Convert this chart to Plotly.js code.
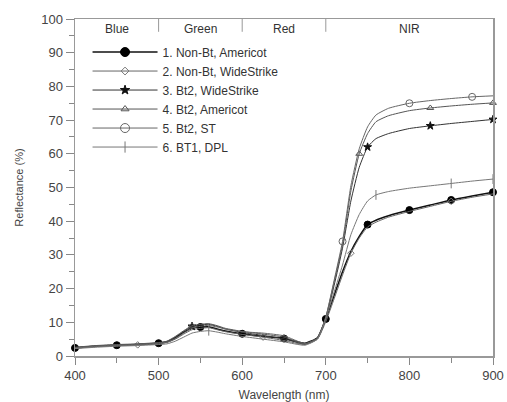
<!DOCTYPE html>
<html>
<head>
<meta charset="utf-8">
<script src="https://cdn.plot.ly/plotly-3.0.1.min.js"></script>
<style>html,body{margin:0;padding:0;background:#fff;}#chart{width:507px;height:402px;}</style>
</head>
<body>
<div id="chart"></div>
<script>
// Wavelength grid (nm)
const wavelength = [400,425,450,475,500,510,520,530,540,550,560,570,580,600,625,650,675,690,700,710,720,730,740,750,760,775,800,825,850,875,900];

// Reflectance (%) per series
const nonBtAmericot   = [2.4,2.9,3.2,3.4,3.8,4.2,5.4,7.0,8.3,8.6,8.7,8.0,7.4,6.6,5.8,5.2,3.8,5.4,11.0,18.0,25.0,31.0,35.5,39.0,40.3,41.6,43.3,44.8,46.3,47.5,48.6];
const nonBtWideStrike = [2.3,2.8,3.1,3.3,3.6,4.0,5.0,6.5,7.8,8.2,8.4,7.8,7.2,6.4,5.6,4.6,3.4,5.0,10.2,17.0,24.0,30.5,35.0,38.3,39.7,41.2,42.9,44.4,45.9,47.1,48.1];
const bt2WideStrike   = [2.5,3.0,3.3,3.5,3.9,4.3,5.6,7.3,8.8,9.2,9.4,8.8,8.0,7.0,6.1,5.1,3.6,5.4,11.2,21.0,32.0,46.0,56.0,62.0,64.5,66.0,67.5,68.3,69.0,69.6,70.2];
const bt2Americot     = [2.6,3.1,3.4,3.6,4.0,4.4,5.8,7.5,9.0,9.4,9.6,9.0,8.2,7.3,6.5,5.6,3.5,5.2,11.5,22.0,33.0,49.0,60.0,66.0,69.5,71.3,72.8,73.6,74.2,74.7,75.1];
const bt2ST           = [2.4,2.9,3.2,3.4,3.8,4.1,5.2,6.8,8.3,8.8,9.1,8.6,8.0,7.2,6.8,6.0,3.7,5.3,11.6,22.5,34.0,50.5,61.5,68.0,71.5,73.5,75.0,75.8,76.4,76.9,77.2];
const bt1DPL          = [2.2,2.6,2.9,3.1,3.4,3.6,4.4,5.6,6.8,7.3,7.5,7.1,6.6,5.8,5.0,4.2,3.2,5.0,11.0,19.0,27.0,36.0,42.0,46.0,47.8,48.8,49.8,50.5,51.2,51.9,52.5];

const seriesNames = ['1. Non-Bt, Americot','2. Non-Bt, WideStrike','3. Bt2, WideStrike','4. Bt2, Americot','5. Bt2, ST','6. BT1, DPL'];
const bandNames = ['Blue','Green','Red','NIR'];
const bandCenters = [450,550,650,800];
const bandEdges = [500,600,700];

// styles
const seriesData = [nonBtAmericot,nonBtWideStrike,bt2WideStrike,bt2Americot,bt2ST,bt1DPL];
const styles = [
  {color:'#111', width:1.5, symbol:'circle', msize:7, lsize:9, mcolor:'#000', idx:[0,2,4,9,13,15,18,23,26,28,30]},
  {color:'#666', width:1.0, symbol:'diamond-open', msize:5, lsize:6, mcolor:'#777', idx:[3,14,21,28]},
  {color:'#333', width:1.0, symbol:'star', msize:6, lsize:7, mcolor:'#111', idx:[8,23,27,30]},
  {color:'#555', width:1.0, symbol:'triangle-up-open', msize:6, lsize:7, mcolor:'#555', idx:[8,22,27,30]},
  {color:'#666', width:1.0, symbol:'circle-open', msize:7, lsize:9, mcolor:'#666', idx:[20,26,29]},
  {color:'#777', width:1.0, symbol:'line-ns-open', msize:7, lsize:8, mcolor:'#777', idx:[10,24,28,30]}
];

const traces = [];
seriesData.forEach((s,k)=>{
  const st = styles[k];
  traces.push({x:wavelength, y:s, mode:'lines', type:'scatter', showlegend:false,
    line:{color:st.color, width:st.width, shape:'spline', smoothing:0.5}, hoverinfo:'skip'});
  traces.push({x:st.idx.map(i=>wavelength[i]), y:st.idx.map(i=>s[i]), mode:'markers', type:'scatter', showlegend:false,
    cliponaxis:false,
    marker:{symbol:st.symbol, size:st.msize, color:st.mcolor, line:{color:st.mcolor, width:1}}});
});
seriesData.forEach((s,k)=>{
  const st = styles[k];
  traces.push({x:[null], y:[null], mode:'lines+markers', type:'scatter', name:seriesNames[k],
    line:{color:st.color, width:st.width},
    marker:{symbol:st.symbol, size:st.lsize, color:st.mcolor, line:{color:st.mcolor, width:1}}});
});

const shapes = bandEdges.map(e=>({type:'line', xref:'x', yref:'paper', x0:e, x1:e, y0:0.962, y1:1, line:{color:'#999', width:1}}));
const annotations = bandNames.map((n,i)=>({x:bandCenters[i], y:0.97, xref:'x', yref:'paper', text:n, showarrow:false,
  font:{size:12, color:'#333', family:'Liberation Sans, Arial, sans-serif'}, yanchor:'middle'}));

const layout = {
  width:507, height:402,
  margin:{l:75, r:14, t:19, b:46},
  paper_bgcolor:'#fff', plot_bgcolor:'#fff',
  font:{family:'Liberation Sans, Arial, sans-serif', color:'#333'},
  showlegend:true,
  legend:{x:0.03, y:0.945, xanchor:'left', yanchor:'top', bgcolor:'rgba(0,0,0,0)', itemwidth:65,
    font:{size:12, color:'#333'}, tracegroupgap:0},
  xaxis:{range:[400,900], tickvals:[400,500,600,700,800,900], ticks:'outside', ticklen:7, tickcolor:'#888',
    minor:{dtick:50, tick0:400, ticks:'outside', ticklen:5, tickcolor:'#888'},
    showline:true, linecolor:'#999', linewidth:1.5, mirror:true, showgrid:false, zeroline:false,
    tickfont:{size:13, color:'#444'},
    title:{text:'Wavelength (nm)', font:{size:12, color:'#444'}, standoff:9}},
  yaxis:{range:[0,100], dtick:10, tick0:0, ticks:'outside', ticklen:8, tickcolor:'#888',
    minor:{dtick:5, ticks:'outside', ticklen:5, tickcolor:'#888'},
    showline:true, linecolor:'#999', linewidth:1.5, mirror:true, showgrid:false, zeroline:false,
    tickfont:{size:13, color:'#444'},
    title:{text:'Reflectance (%)', font:{size:11, color:'#444'}, standoff:15}},
  shapes:shapes, annotations:annotations
};

Plotly.newPlot('chart', traces, layout, {displayModeBar:false, staticPlot:true});
</script>
</body>
</html>
